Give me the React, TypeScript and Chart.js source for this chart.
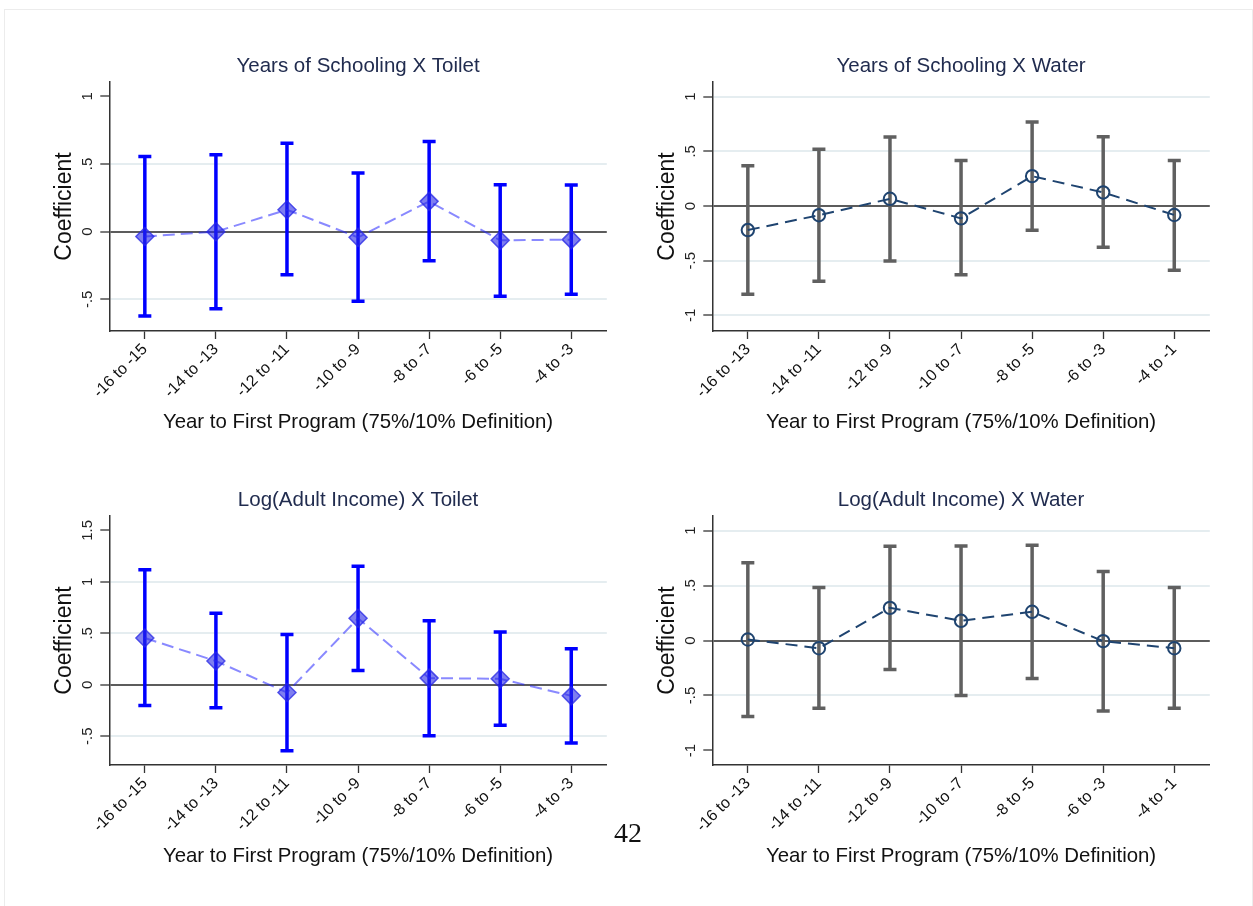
import React, { useEffect, useRef } from "react";
import { Chart, registerables } from "chart.js";

Chart.register(...registerables);

// Period labels on the horizontal axis
const toiletPeriods = ["-16 to -15", "-14 to -13", "-12 to -11", "-10 to -9", "-8 to -7", "-6 to -5", "-4 to -3"];
const waterPeriods = ["-16 to -13", "-14 to -11", "-12 to -9", "-10 to -7", "-8 to -5", "-6 to -3", "-4 to -1"];

// Years of Schooling X Toilet
const schoolingToiletCoef = [-0.036, 0.0, 0.162, -0.042, 0.224, -0.064, -0.059];
const schoolingToiletUpper = [0.556, 0.569, 0.654, 0.433, 0.667, 0.347, 0.345];
const schoolingToiletLower = [-0.624, -0.569, -0.318, -0.515, -0.214, -0.478, -0.463];
const schoolingToiletRange = [-0.734, 1.106];
const schoolingToiletTicks = [1, 0.5, 0, -0.5];
const schoolingToiletTickLabels = ["1", ".5", "0", "-.5"];
const schoolingToiletGrid = [0.5, -0.5];

// Years of Schooling X Water
const schoolingWaterCoef = [-0.22, -0.084, 0.066, -0.113, 0.273, 0.124, -0.082];
const schoolingWaterUpper = [0.368, 0.52, 0.632, 0.416, 0.768, 0.634, 0.416];
const schoolingWaterLower = [-0.806, -0.688, -0.502, -0.629, -0.222, -0.377, -0.587];
const schoolingWaterRange = [-1.143, 1.134];
const schoolingWaterTicks = [1, 0.5, 0, -0.5, -1];
const schoolingWaterTickLabels = ["1", ".5", "0", "-.5", "-1"];
const schoolingWaterGrid = [1, 0.5, -0.5, -1];

// Log(Adult Income) X Toilet
const incomeToiletCoef = [0.455, 0.231, -0.075, 0.646, 0.065, 0.058, -0.107];
const incomeToiletUpper = [1.117, 0.695, 0.49, 1.153, 0.623, 0.513, 0.351];
const incomeToiletLower = [-0.201, -0.224, -0.64, 0.14, -0.494, -0.393, -0.565];
const incomeToiletRange = [-0.779, 1.64];
const incomeToiletTicks = [1.5, 1, 0.5, 0, -0.5];
const incomeToiletTickLabels = ["1.5", "1", ".5", "0", "-.5"];
const incomeToiletGrid = [1, 0.5, -0.5];

// Log(Adult Income) X Water
const incomeWaterCoef = [0.009, -0.07, 0.297, 0.179, 0.261, -0.006, -0.07];
const incomeWaterUpper = [0.707, 0.483, 0.856, 0.859, 0.865, 0.628, 0.483];
const incomeWaterLower = [-0.692, -0.616, -0.264, -0.5, -0.346, -0.64, -0.616];
const incomeWaterRange = [-1.132, 1.132];
const incomeWaterTicks = [1, 0.5, 0, -0.5, -1];
const incomeWaterTickLabels = ["1", ".5", "0", "-.5", "-1"];
const incomeWaterGrid = [1, 0.5, -0.5];

const xAxisTitle = "Year to First Program (75%/10% Definition)";
const yAxisTitle = "Coefficient";
const pageNumber = "42";

const SANS = "'Liberation Sans', Arial, Helvetica, sans-serif";

type PanelSpec = {
  title: string;
  labels: string[];
  coef: number[];
  upper: number[];
  lower: number[];
  range: number[];
  ticks: number[];
  tickLabels: string[];
  grid: number[];
  variant: "toilet" | "water";
  left: number;
  top: number;
};

const panels: PanelSpec[] = [
  {
    title: "Years of Schooling X Toilet",
    labels: toiletPeriods,
    coef: schoolingToiletCoef,
    upper: schoolingToiletUpper,
    lower: schoolingToiletLower,
    range: schoolingToiletRange,
    ticks: schoolingToiletTicks,
    tickLabels: schoolingToiletTickLabels,
    grid: schoolingToiletGrid,
    variant: "toilet",
    left: 0,
    top: 0,
  },
  {
    title: "Years of Schooling X Water",
    labels: waterPeriods,
    coef: schoolingWaterCoef,
    upper: schoolingWaterUpper,
    lower: schoolingWaterLower,
    range: schoolingWaterRange,
    ticks: schoolingWaterTicks,
    tickLabels: schoolingWaterTickLabels,
    grid: schoolingWaterGrid,
    variant: "water",
    left: 603,
    top: 0,
  },
  {
    title: "Log(Adult Income) X Toilet",
    labels: toiletPeriods,
    coef: incomeToiletCoef,
    upper: incomeToiletUpper,
    lower: incomeToiletLower,
    range: incomeToiletRange,
    ticks: incomeToiletTicks,
    tickLabels: incomeToiletTickLabels,
    grid: incomeToiletGrid,
    variant: "toilet",
    left: 0,
    top: 434,
  },
  {
    title: "Log(Adult Income) X Water",
    labels: waterPeriods,
    coef: incomeWaterCoef,
    upper: incomeWaterUpper,
    lower: incomeWaterLower,
    range: incomeWaterRange,
    ticks: incomeWaterTicks,
    tickLabels: incomeWaterTickLabels,
    grid: incomeWaterGrid,
    variant: "water",
    left: 603,
    top: 434,
  },
];

const STYLES = {
  toilet: {
    bar: "#0000ff",
    line: "rgba(40, 40, 255, 0.55)",
    markerFill: "rgba(40, 40, 230, 0.6)",
    markerStroke: "rgba(40, 40, 230, 0.75)",
    markerStyle: "rectRot",
    markerRadius: 9,
    markerBorder: 1.5,
    dash: [12, 6],
  },
  water: {
    bar: "#606060",
    line: "#1f4470",
    markerFill: "rgba(0, 0, 0, 0)",
    markerStroke: "#1f4470",
    markerStyle: "circle",
    markerRadius: 6.2,
    markerBorder: 2,
    dash: [12, 7],
  },
};

const CANVAS_W = 620;
const CANVAS_H = 450;

// Confidence-interval bars with caps, placed through the chart's own scales
function makeErrorBars(lower: number[], upper: number[], color: string) {
  return {
    id: "errorBars",
    beforeDatasetsDraw(chart: any) {
      const { ctx } = chart;
      const x = chart.scales.x;
      const y = chart.scales.y;
      const cap = 13;
      ctx.save();
      ctx.strokeStyle = color;
      ctx.lineWidth = 3.5;
      ctx.lineCap = "butt";
      lower.forEach((lo, i) => {
        const px = x.getPixelForValue(i);
        const yLo = y.getPixelForValue(lo);
        const yHi = y.getPixelForValue(upper[i]);
        ctx.beginPath();
        ctx.moveTo(px, yLo);
        ctx.lineTo(px, yHi);
        ctx.moveTo(px - cap / 2, yLo);
        ctx.lineTo(px + cap / 2, yLo);
        ctx.moveTo(px - cap / 2, yHi);
        ctx.lineTo(px + cap / 2, yHi);
        ctx.stroke();
      });
      ctx.restore();
    },
  };
}

// Vertical-axis labels written upright along the axis
function makeYTickLabels(values: number[], labels: string[]) {
  return {
    id: "yTickLabels",
    afterDraw(chart: any) {
      const { ctx, chartArea } = chart;
      const y = chart.scales.y;
      ctx.save();
      ctx.font = `15px ${SANS}`;
      ctx.fillStyle = "#222";
      ctx.textAlign = "center";
      ctx.textBaseline = "middle";
      values.forEach((v, i) => {
        const py = y.getPixelForValue(v);
        ctx.save();
        ctx.translate(chartArea.left - 21, py);
        ctx.rotate(-Math.PI / 2);
        ctx.fillText(labels[i], 0, 0);
        ctx.restore();
      });
      ctx.restore();
    },
  };
}

function Panel({ spec }: { spec: PanelSpec }) {
  const ref = useRef<HTMLCanvasElement | null>(null);

  useEffect(() => {
    if (!ref.current) return;
    const st = STYLES[spec.variant];
    const gridSet = spec.grid;
    const chart = new Chart(ref.current, {
      type: "line",
      data: {
        labels: spec.labels,
        datasets: [
          {
            data: spec.coef,
            borderColor: st.line,
            borderWidth: 2,
            borderDash: st.dash,
            tension: 0,
            fill: false,
            pointStyle: st.markerStyle as any,
            pointRadius: st.markerRadius,
            pointBackgroundColor: st.markerFill,
            pointBorderColor: st.markerStroke,
            pointBorderWidth: st.markerBorder,
          },
        ],
      },
      options: {
        responsive: false,
        devicePixelRatio: 1,
        animation: false,
        events: [],
        layout: { padding: { left: 0, top: 54.4, right: CANVAS_W - 606.8, bottom: 0 } },
        plugins: {
          legend: { display: false },
          tooltip: { enabled: false },
          title: {
            display: true,
            text: spec.title,
            fullSize: false,
            color: "#212c4f",
            font: { family: SANS, size: 20.5, weight: "normal" as any, lineHeight: 1.2 },
            padding: { top: 0, bottom: 3 },
          },
        },
        scales: {
          x: {
            type: "category",
            offset: true,
            grid: {
              display: true,
              drawOnChartArea: false,
              drawTicks: true,
              tickLength: 8,
              tickColor: "#333",
              tickWidth: 1.3,
              offset: false,
            },
            border: { display: true, color: "#333", width: 1.5 },
            ticks: {
              autoSkip: false,
              minRotation: 45,
              maxRotation: 45,
              padding: 1,
              color: "#111",
              font: { family: SANS, size: 16 },
            },
            title: {
              display: true,
              text: xAxisTitle,
              color: "#111",
              font: { family: SANS, size: 20.4, lineHeight: 1.2 },
              padding: { top: 0, bottom: 15 },
            },
            afterFit: (s: any) => {
              s.height = CANVAS_H - 331;
            },
          },
          y: {
            type: "linear",
            min: spec.range[0],
            max: spec.range[1],
            afterBuildTicks: (s: any) => {
              s.ticks = spec.ticks.map((v) => ({ value: v }));
            },
            ticks: { display: false },
            grid: {
              display: true,
              drawOnChartArea: true,
              drawTicks: true,
              tickLength: 9,
              tickColor: "#333",
              tickWidth: 1.3,
              color: (c: any) => {
                const v = c.tick ? c.tick.value : null;
                if (v === 0) return "#5c5c5c";
                if (v !== null && gridSet.includes(v)) return "#e5edf0";
                return "rgba(0,0,0,0)";
              },
              lineWidth: 2,
            },
            border: { display: true, color: "#333", width: 1.5 },
            title: {
              display: true,
              text: yAxisTitle,
              color: "#111",
              font: { family: SANS, size: 23, lineHeight: 1.2 },
              padding: { top: 51.2, bottom: 0 },
            },
            afterFit: (s: any) => {
              s.width = 109.3;
            },
          },
        },
      },
      plugins: [makeErrorBars(spec.lower, spec.upper, st.bar), makeYTickLabels(spec.ticks, spec.tickLabels)],
    });
    return () => chart.destroy();
  }, [spec]);

  return (
    <canvas
      ref={ref}
      width={CANVAS_W}
      height={CANVAS_H}
      style={{ position: "absolute", left: spec.left, top: spec.top, width: CANVAS_W, height: CANVAS_H }}
    />
  );
}

export default function App() {
  return (
    <div
      style={{
        position: "fixed",
        left: 0,
        top: 0,
        width: 1253,
        height: 906,
        background: "#ffffff",
        overflow: "hidden",
      }}
    >
      <div
        style={{
          position: "absolute",
          left: 4,
          top: 9,
          width: 1247,
          height: 900,
          borderLeft: "1px solid #ececec",
          borderTop: "1px solid #ececec",
          borderRight: "1px solid #ececec",
        }}
      />
      {panels.map((p) => (
        <Panel key={p.title} spec={p} />
      ))}
      <div
        style={{
          position: "absolute",
          left: 588,
          top: 819,
          width: 80,
          textAlign: "center",
          fontFamily: "'Liberation Serif', 'Times New Roman', serif",
          fontSize: 28,
          lineHeight: "28px",
          color: "#111",
        }}
      >
        {pageNumber}
      </div>
    </div>
  );
}
